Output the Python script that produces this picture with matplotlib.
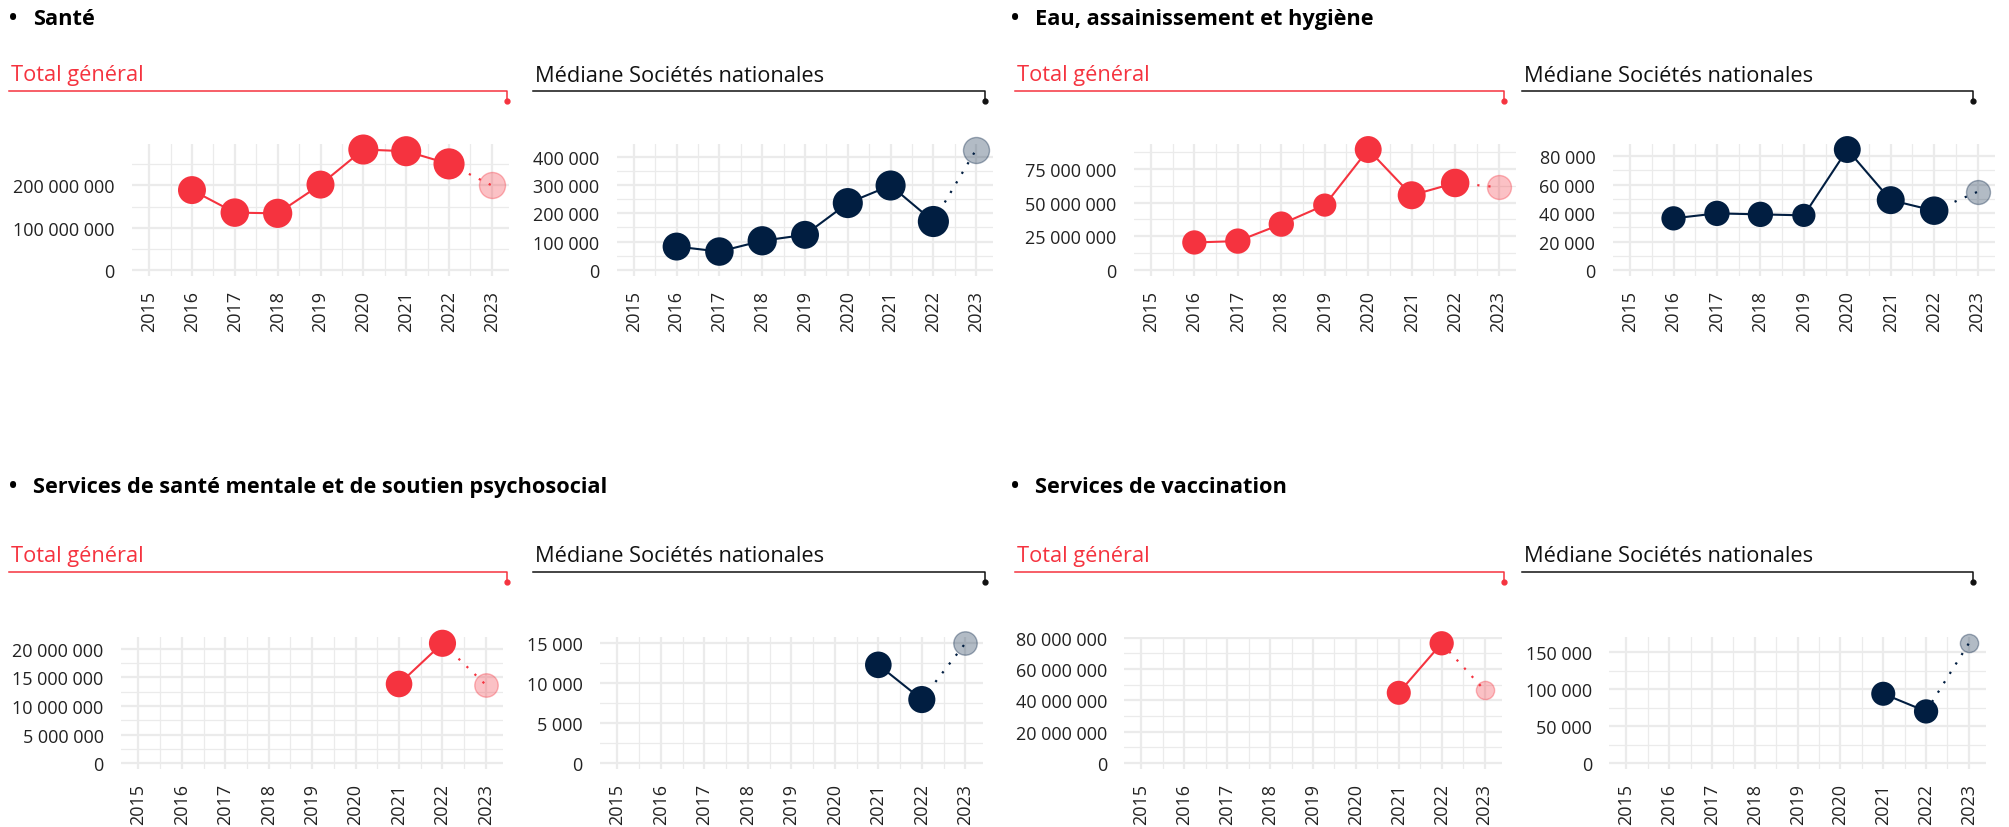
import matplotlib
matplotlib.use("Agg")
import matplotlib.pyplot as plt
from matplotlib.colors import to_rgba
from matplotlib.ticker import MultipleLocator, FuncFormatter

plt.rcParams['font.family'] = ['Open Sans', 'DejaVu Sans']

RED = "#F5333F"
NAVY = "#011E41"

# ---- data (last year of each series is the projection) ----
years_long = [2016, 2017, 2018, 2019, 2020, 2021, 2022, 2023]
years_short = [2021, 2022, 2023]

sante_total = [189e6, 135.7e6, 134e6, 202e6, 285e6, 281e6, 251e6, 200e6]
sante_median = [82.6e3, 65e3, 103e3, 124e3, 236e3, 298e3, 171e3, 425e3]
sante_sizes = [26.5, 27, 27.7, 26.5, 28.5, 28.5, 29.5, 25]

eau_total = [20.4e6, 21.4e6, 34e6, 48.1e6, 89.3e6, 55.4e6, 64.5e6, 61.3e6]
eau_median = [36.3e3, 39.8e3, 39.1e3, 38.4e3, 84.7e3, 49.1e3, 41.7e3, 55e3]
eau_sizes = [23, 24, 24, 22, 25.5, 26.5, 27, 23]

mental_total = [13.86e6, 21.0e6, 13.7e6]
mental_median = [12.3e3, 7.95e3, 15e3]
mental_sizes = [25.2, 25.7, 22.5]

vacc_total = [44.8e6, 76.4e6, 46.5e6]
vacc_median = [93.7e3, 69.8e3, 162e3]
vacc_sizes = [22.8, 23, 17.5]

W, H = 2009, 828
fig = plt.figure(figsize=(W / 100, H / 100), dpi=100)

# overlay in pixel coordinates for titles and header rules
ov = fig.add_axes([0, 0, 1, 1], zorder=-1)
ov.set_xlim(0, W)
ov.set_ylim(H, 0)
ov.axis('off')


def px_axes(left, top, right, bottom):
    return fig.add_axes([left / W, 1 - bottom / H, (right - left) / W, (bottom - top) / H])


def fmt(v, pos):
    return f"{v:,.0f}".replace(",", " ")


def panel(box, years, values, sizes, color, step):
    ax = px_axes(*box)
    hi = max(values)
    ax.set_ylim(-0.05 * hi, 1.05 * hi)
    ax.set_xlim(2015 - 0.4, 2023 + 0.4)
    ax.xaxis.set_major_locator(MultipleLocator(1))
    ax.xaxis.set_minor_locator(MultipleLocator(0.5))
    ax.yaxis.set_major_locator(MultipleLocator(step))
    ax.yaxis.set_minor_locator(MultipleLocator(step / 2))
    ax.yaxis.set_major_formatter(FuncFormatter(fmt))
    ax.xaxis.set_major_formatter(FuncFormatter(lambda v, p: f"{int(round(v))}"))
    ax.grid(which='major', color='#EBEBEB', lw=1.6)
    ax.grid(which='minor', color='#EBEBEB', lw=0.9)
    ax.set_axisbelow(True)
    for s in ax.spines.values():
        s.set_visible(False)
    ax.tick_params(which='both', length=0, labelsize=13, labelcolor='#222222')
    ax.tick_params(axis='y', pad=12.5)
    ax.tick_params(axis='x', pad=10, labelrotation=90)

    ax.plot(years[:-1], values[:-1], color=color, lw=1.5, zorder=3, clip_on=False)
    ax.plot(years[-2:], values[-2:], color=color, lw=1.6, ls=(0, (1, 4)), zorder=2, clip_on=False)
    ax.scatter(years[:-1], values[:-1], s=[(d * 0.76) ** 2 for d in sizes[:-1]],
               color=color, edgecolors='none', zorder=4, clip_on=False)
    ax.scatter(years[-1:], values[-1:], s=[(sizes[-1] * 0.75) ** 2],
               facecolors=[to_rgba(color, 0.3)], edgecolors=[to_rgba(color, 0.35)],
               linewidths=1, zorder=4, clip_on=False)
    return ax


def header(x0, x1, y, label, color):
    ov.text(x0 + 2, y, label, color=color, fontsize=15.7, va='baseline')
    ov.plot([x0, x1, x1], [y + 10.5, y + 10.5, y + 20.5], color=color, lw=1.1)
    ov.plot([x1], [y + 20.5], 'o', ms=3.5, color=color)


def section(x, y, label):
    ov.text(x, y, "•", fontsize=15.7, fontweight='bold', va='baseline', color='black')
    ov.text(x + 24, y, label, fontsize=15.7, fontweight='bold', va='baseline', color='black')


cols = [(9, 506.7), (533, 985), (1015, 1504), (1522, 1973)]

# top row
section(9, 25.3, "Santé")
section(1011, 25.3, "Eau, assainissement et hygiène")
for i, (lab, c) in enumerate([("Total général", RED), ("Médiane Sociétés nationales", '#111111')] * 2):
    header(cols[i][0], cols[i][1], 81.5, lab, c)

panel((132, 144.5, 509, 277), years_long, sante_total, sante_sizes, RED, 100e6)
panel((616.7, 144.5, 993.3, 277), years_long, sante_median, sante_sizes, NAVY, 100e3)
panel((1133.5, 144.5, 1516, 277), years_long, eau_total, eau_sizes, RED, 25e6)
panel((1612.7, 144.5, 1995, 277), years_long, eau_median, eau_sizes, NAVY, 20e3)

# bottom row
section(9, 492.7, "Services de santé mentale et de soutien psychosocial")
section(1011, 492.7, "Services de vaccination")
for i, (lab, c) in enumerate([("Total général", RED), ("Médiane Sociétés nationales", '#111111')] * 2):
    header(cols[i][0], cols[i][1], 562, lab, c)

panel((121, 638.3, 503.3, 770), years_short, mental_total, mental_sizes, RED, 5e6)
panel((600, 638.3, 982.7, 770), years_short, mental_median, mental_sizes, NAVY, 5e3)
panel((1124.3, 638.3, 1501.7, 770), years_short, vacc_total, vacc_sizes, RED, 20e6)
panel((1609.3, 638.3, 1986, 770), years_short, vacc_median, vacc_sizes, NAVY, 50e3)

fig.savefig("out.png", dpi=100)
